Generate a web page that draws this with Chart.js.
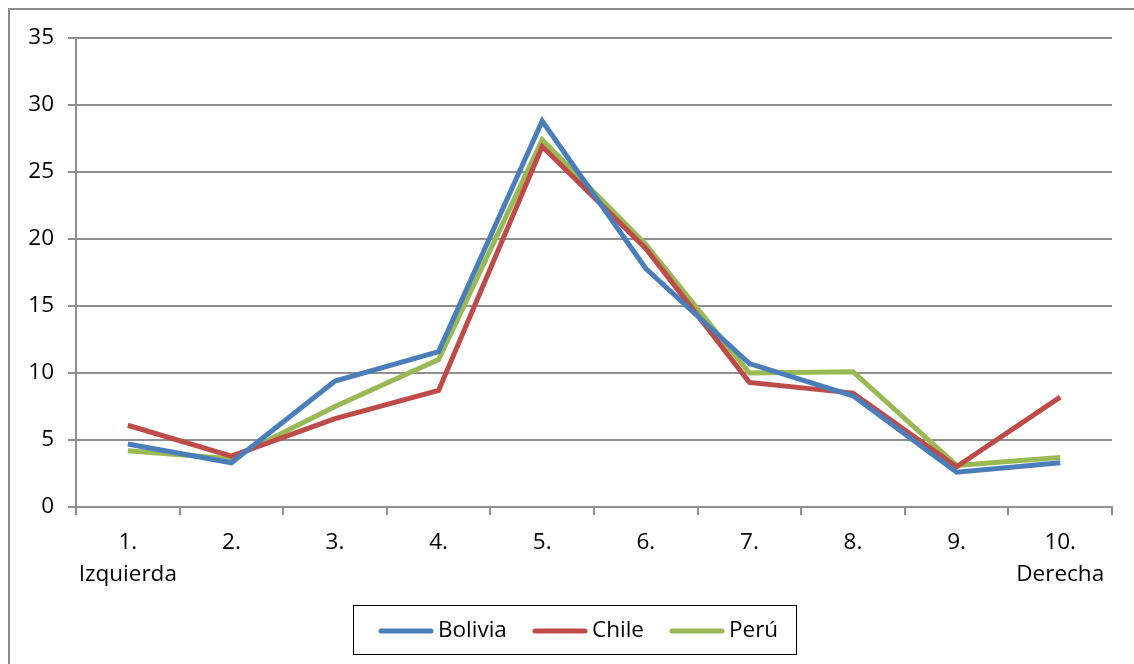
<!DOCTYPE html>
<html>
<head>
<meta charset="utf-8">
<script src="https://cdn.jsdelivr.net/npm/chart.js@4/dist/chart.umd.min.js"></script>
<style>
  html, body { margin: 0; padding: 0; background: #ffffff; }
  #wrap { position: relative; width: 1134px; height: 664px; }
</style>
</head>
<body>
<div id="wrap"><canvas id="c" width="1134" height="664"></canvas></div>
<script>
// Self-placement on a left-right scale, share of respondents (%)
const categories = [["1.", "Izquierda"], "2.", "3.", "4.", "5.", "6.", "7.", "8.", "9.", ["10.", "Derecha"]];
const bolivia = [4.7, 3.3, 9.4, 11.6, 28.8, 17.8, 10.7, 8.3, 2.6, 3.3];
const chile   = [6.1, 3.8, 6.6, 8.7, 26.9, 19.3, 9.3, 8.5, 3.0, 8.2];
const peru    = [4.2, 3.6, 7.5, 11.0, 27.4, 19.6, 10.0, 10.1, 3.1, 3.7];
const yTicks  = [0, 5, 10, 15, 20, 25, 30, 35];

const FONT = "'Open Sans', sans-serif";
const FONT_SIZE = 22.5;
const GRID = "#8f8f8f";

// Outer frame of the chart object
const framePlugin = {
  id: "frame",
  beforeDraw(chart) {
    const ctx = chart.ctx;
    ctx.save();
    ctx.fillStyle = "#ffffff";
    ctx.fillRect(0, 0, chart.width, chart.height);
    ctx.strokeStyle = "#8a8a8a";
    ctx.lineWidth = 2;
    ctx.strokeRect(9, 9, chart.width + 40, chart.height + 40);
    ctx.restore();
  }
};

// Boxed legend below the axis
const boxLegend = {
  id: "boxLegend",
  afterDraw(chart) {
    const ctx = chart.ctx;
    const box = { x: 353.5, y: 605.5, w: 443, h: 49 };
    ctx.save();
    ctx.strokeStyle = "#000000";
    ctx.lineWidth = 1;
    ctx.strokeRect(box.x, box.y, box.w, box.h);
    const starts = [379, 533, 670];
    const cy = 631;
    ctx.font = FONT_SIZE + "px " + FONT;
    ctx.textBaseline = "middle";
    ctx.fillStyle = "#000000";
    chart.data.datasets.forEach((ds, i) => {
      const x0 = starts[i];
      ctx.strokeStyle = ds.borderColor;
      ctx.lineWidth = 5;
      ctx.lineCap = "round";
      ctx.beginPath();
      ctx.moveTo(x0 + 2, cy);
      ctx.lineTo(x0 + 52, cy);
      ctx.stroke();
      ctx.fillText(ds.label, x0 + 59, cy);
    });
    ctx.restore();
  }
};

new Chart(document.getElementById("c"), {
  type: "line",
  data: {
    labels: categories,
    datasets: [
      { label: "Bolivia", data: bolivia, borderColor: "#4a7ebb" },
      { label: "Chile",   data: chile,   borderColor: "#be4b48" },
      { label: "Perú",    data: peru,    borderColor: "#98b954" }
    ].map(d => Object.assign({
      borderWidth: 5,
      pointRadius: 0,
      pointHoverRadius: 0,
      tension: 0,
      fill: false,
      borderJoinStyle: "miter",
      borderCapStyle: "butt"
    }, d))
  },
  options: {
    responsive: false,
    animation: false,
    events: [],
    layout: { padding: { left: 0, top: 38, right: 22, bottom: 0 } },
    plugins: {
      legend: { display: false },
      tooltip: { enabled: false },
      title: { display: false }
    },
    scales: {
      x: {
        offset: true,
        grid: {
          offset: true,
          drawOnChartArea: false,
          drawTicks: true,
          tickLength: 8,
          color: GRID,
          lineWidth: 2
        },
        border: { color: GRID, width: 2 },
        ticks: {
          color: "#000000",
          font: { family: FONT, size: FONT_SIZE, lineHeight: 1.42 },
          padding: 12,
          maxRotation: 0,
          autoSkip: false
        },
        afterFit(scale) { scale.height = 157; }
      },
      y: {
        min: 0,
        max: 35,
        afterBuildTicks(scale) { scale.ticks = yTicks.map(v => ({ value: v })); },
        grid: {
          drawOnChartArea: true,
          drawTicks: true,
          tickLength: 8,
          color: GRID,
          lineWidth: 2
        },
        border: { color: GRID, width: 2 },
        ticks: {
          color: "#000000",
          font: { family: FONT, size: FONT_SIZE },
          padding: 14
        },
        afterFit(scale) { scale.width = 76; }
      }
    }
  },
  plugins: [framePlugin, boxLegend]
});
</script>
</body>
</html>
